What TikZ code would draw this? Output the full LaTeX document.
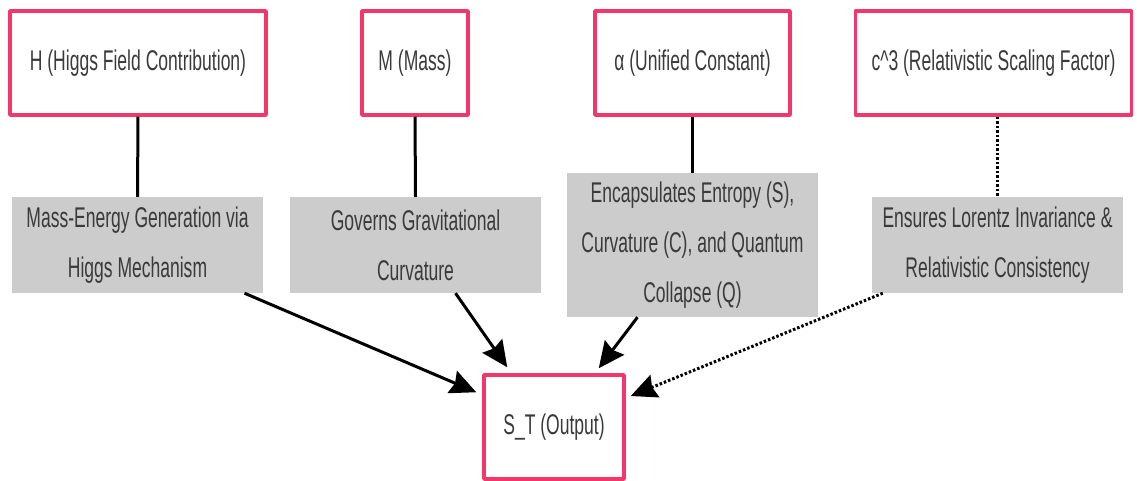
\documentclass[tikz,border=0pt]{standalone}
\usepackage{fontspec}
\setmainfont{Liberation Sans}[FakeStretch=0.615]
\usepackage{tikz}
\usetikzlibrary{arrows.meta,shadows}
\definecolor{rose}{HTML}{F2386B}
\definecolor{boxgray}{HTML}{CCCCCC}
\definecolor{ink}{HTML}{3A3A3A}
\tikzset{
  every picture/.style={
    line join=round,
    >={Stealth[length=26pt,width=24pt,inset=3pt]},
  },
  % the four inputs and the output
  term/.style={draw=rose, line width=3.5pt, fill=white, inner sep=0pt,
    minimum height=104pt, text=ink,
    drop shadow={opacity=0.18, shadow xshift=1.5pt, shadow yshift=-2pt}},
  % the grey explanation boxes
  note/.style={fill=boxgray, inner sep=0pt, minimum width=251pt,
    minimum height=96pt, text=ink, align=center},
  link/.style={line width=3pt},
  dots/.style={line width=3pt, dash pattern=on 2.5pt off 2pt},
}

\begin{document}
\begin{tikzpicture}[x=1pt, y=-1pt, font=\fontsize{28.5}{50}\selectfont]
    \useasboundingbox (0,0) rectangle (1137,481);
    % Inputs
    \node[term, minimum width=256pt] (higgs) at (138,63) {H (Higgs Field Contribution)};
    \node[term, minimum width=106pt] (mass) at (415,63) {M (Mass)};
    \node[term, minimum width=195pt] (alpha) at (692.5,63) {α (Unified Constant)};
    \node[term, minimum width=276pt] (scale) at (993.5,63) {c\^{}3 (Relativistic Scaling Factor)};
    % Explanations
    \node[note] (gen) at (137.5,245) {Mass-Energy Generation via\\Higgs Mechanism};
    \node[note] (curv) at (415.5,245) {Governs Gravitational\\Curvature};
    \node[note, minimum height=144pt] (entropy) at (692.5,245) {Encapsulates Entropy (S),\\Curvature (C), and Quantum\\Collapse (Q)};
    \node[note] (lorentz) at (997.5,245) {Ensures Lorentz Invariance \&\\Relativistic Consistency};
    % Output
    \node[term, minimum width=140pt, drop shadow={opacity=0}] (out) at (554,427) {S\_T (Output)};
    % Vertical links
    \draw[link] (higgs.south) -- (gen.north);
    \draw[link] (mass.south) -- (curv.north);
    \draw[link] (alpha.south) -- (entropy.north);
    \draw[dots] (scale.south -| lorentz.north) -- (lorentz.north);
    % Arrows into the output
    \draw[link,->] ([xshift=107pt]gen.south) -- ([xshift=-6pt,yshift=-19pt]out.north west);
    \draw[link,->] ([xshift=40pt]curv.south) -- ([xshift=25pt,yshift=6pt]out.north west);
    \draw[link,->] ([xshift=-55pt]entropy.south) -- ([xshift=-27pt,yshift=5pt]out.north east);
    \draw[dots,->] ([xshift=11pt]lorentz.south west) -- ([xshift=5pt,yshift=31pt]out.east);
\end{tikzpicture}
\end{document}
